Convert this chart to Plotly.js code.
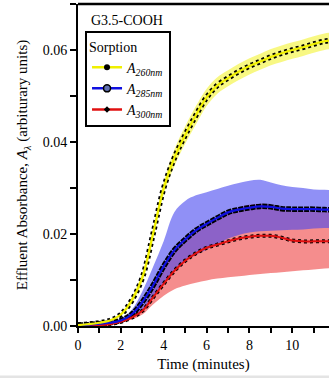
<!DOCTYPE html>
<html>
<head>
<meta charset="utf-8">
<script src="https://cdn.plot.ly/plotly-3.0.1.min.js"></script>
<style>html,body{margin:0;padding:0;background:#fff;}#chart{width:329px;height:378px;}</style>
</head>
<body>
<div id="chart"></div>
<script>
// Time (minutes)
const time = [0,0.5,1,1.5,2,2.5,3,3.5,4,4.5,5,5.5,6,6.5,7,7.5,8,8.5,9,9.5,10,10.5,11,11.5,12];

// A 260nm
const a260      = [0.0002,0.0004,0.0007,0.0012,0.0025,0.0055,0.0105,0.0200,0.0300,0.0366,0.0415,0.0458,0.0497,0.0523,0.0539,0.0553,0.0565,0.0575,0.0585,0.0593,0.0600,0.0606,0.0613,0.0619,0.0622];
const a260Upper = [0.0003,0.0005,0.0008,0.0014,0.0028,0.0062,0.0115,0.0212,0.0314,0.0384,0.0434,0.0478,0.0516,0.0541,0.0556,0.0570,0.0582,0.0592,0.0602,0.0610,0.0617,0.0623,0.0630,0.0636,0.0639];
const a260Lower = [0.0001,0.0003,0.0006,0.0010,0.0022,0.0048,0.0095,0.0188,0.0286,0.0348,0.0396,0.0438,0.0478,0.0505,0.0521,0.0535,0.0547,0.0557,0.0567,0.0574,0.0581,0.0587,0.0594,0.0600,0.0603];

// A 285nm
const a285      = [0.0002,0.0003,0.0005,0.0007,0.0012,0.0025,0.0052,0.0088,0.0130,0.0165,0.0188,0.0208,0.0222,0.0235,0.0247,0.0253,0.0257,0.0260,0.0259,0.0255,0.0254,0.0254,0.0254,0.0253,0.0253];
const a285Upper = [0.0004,0.0005,0.0007,0.0010,0.0016,0.0035,0.0075,0.0128,0.0185,0.0248,0.0272,0.0284,0.0291,0.0298,0.0305,0.0311,0.0316,0.0318,0.0312,0.0306,0.0302,0.0300,0.0297,0.0296,0.0296];
const a285Lower = [0.0001,0.0002,0.0003,0.0005,0.0009,0.0018,0.0035,0.0060,0.0095,0.0120,0.0140,0.0155,0.0166,0.0178,0.0190,0.0198,0.0203,0.0206,0.0207,0.0208,0.0209,0.0210,0.0212,0.0213,0.0213];

// A 300nm
const a300      = [0.0001,0.0001,0.0002,0.0004,0.0009,0.0018,0.0033,0.0062,0.0092,0.0120,0.0142,0.0158,0.0170,0.0177,0.0184,0.0190,0.0194,0.0196,0.0196,0.0192,0.0186,0.0184,0.0184,0.0184,0.0184];
const a300Upper = [0.0002,0.0002,0.0003,0.0005,0.0011,0.0022,0.0040,0.0080,0.0125,0.0165,0.0190,0.0210,0.0225,0.0237,0.0248,0.0258,0.0264,0.0266,0.0264,0.0258,0.0252,0.0250,0.0249,0.0248,0.0248];
const a300Lower = [0.0000,0.0000,0.0001,0.0003,0.0007,0.0014,0.0025,0.0047,0.0066,0.0080,0.0088,0.0094,0.0099,0.0103,0.0106,0.0108,0.0111,0.0113,0.0115,0.0117,0.0119,0.0121,0.0123,0.0125,0.0126];

const xTicks = [0,2,4,6,8,10];
const yTicks = [0,0.02,0.04,0.06];
const yTickText = ['0.00','0.02','0.04','0.06'];
const seriesNames = ['<i>A</i><sub><i>260nm</i></sub>','<i>A</i><sub><i>285nm</i></sub>','<i>A</i><sub><i>300nm</i></sub>'];

const FONT = 'Liberation Serif, Times New Roman, serif';

function band(lower, upper, fillcolor){
  return [
    {x: time, y: lower, mode:'lines', line:{width:0, shape:'spline'}, showlegend:false, hoverinfo:'skip'},
    {x: time, y: upper, mode:'lines', line:{width:0, shape:'spline'}, fill:'tonexty', fillcolor: fillcolor, showlegend:false, hoverinfo:'skip'}
  ];
}
function outline(y, w, dash){
  return {x: time, y: y, mode:'lines', line:{color:'#000', width:w, dash:dash, shape:'spline'}, showlegend:false, hoverinfo:'skip'};
}
function main(y, color, w){
  return {x: time, y: y, mode:'lines', line:{color:color, width:w, shape:'spline'}, showlegend:false};
}
function legendItem(name, lineColor, marker){
  return {x:[null], y:[null], mode:'lines+markers', name:name, line:{color:lineColor, width:2.5}, marker:marker, showlegend:true};
}

const data = [
  ...band(a300Lower, a300Upper, 'rgba(240,80,80,0.65)'),
  ...band(a285Lower, a285Upper, 'rgba(70,70,240,0.6)'),
  ...band(a260Lower, a260Upper, 'rgba(245,245,90,0.75)'),
  outline(a300, 4, '3px,3px'),
  outline(a285, 5.5, '5px,1px'),
  outline(a260, 5.5, '3px,3px'),
  main(a300, '#e01010', 2),
  main(a285, '#1010e0', 2.2),
  main(a260, '#f0f000', 2.2),
  legendItem(seriesNames[0], '#f0f000', {symbol:'circle', size:6, color:'#000'}),
  legendItem(seriesNames[1], '#1010e0', {symbol:'circle', size:7, color:'#6070b0', line:{color:'#000', width:1.5}}),
  legendItem(seriesNames[2], '#e01010', {symbol:'diamond', size:5, color:'#000'})
];

const layout = {
  width: 329, height: 378,
  margin: {l:78, r:0, t:4, b:52},
  paper_bgcolor:'#fff', plot_bgcolor:'#fff',
  font: {family: FONT, color:'#000', size:13},
  showlegend: true,
  legend: {
    x: 0.028, y: 0.915, xanchor:'left', yanchor:'top',
    bordercolor:'#000', borderwidth:2, bgcolor:'#fff',
    font:{family:FONT, size:14, color:'#000'},
    title:{text:'Sorption', font:{family:FONT, size:14, color:'#000'}},
    traceorder:'normal',
    tracegroupgap:0, itemwidth:30
  },
  xaxis: {
    range:[0, 11.71],
    showline:true, linecolor:'#000', linewidth:2,
    ticks:'outside', ticklen:5, tickwidth:2, tickcolor:'#000',
    tickvals: xTicks, ticktext: xTicks.map(String),
    minor:{dtick:1, tick0:1, ticks:'outside', ticklen:5, tickwidth:2, tickcolor:'#000', showgrid:false},
    showgrid:false, zeroline:false,
    tickfont:{family:FONT, size:14},
    title:{text:'Time (minutes)', font:{family:FONT, size:15}, standoff:7}
  },
  yaxis: {
    range:[0, 0.07],
    showline:true, linecolor:'#000', linewidth:2,
    ticks:'outside', ticklen:6, tickwidth:2, tickcolor:'#000',
    tickvals: yTicks, ticktext: yTickText,
    minor:{dtick:0.01, tick0:0.01, ticks:'outside', ticklen:6, tickwidth:2, tickcolor:'#000', showgrid:false},
    showgrid:false, zeroline:false,
    tickfont:{family:FONT, size:14},
    title:{text:'Effluent Absorbance, <i>A</i><sub><i>λ</i></sub> (arbiturary units)', font:{family:FONT, size:15}, standoff:11}
  },
  annotations: [
    {text:'G3.5-COOH', xref:'paper', yref:'paper', x:0.044, y:0.949, xanchor:'left', yanchor:'middle', showarrow:false, font:{family:FONT, size:14, color:'#000'}}
  ],
  shapes: [
    {type:'line', xref:'paper', yref:'paper', x0:0, x1:1, y0:1, y1:1, line:{color:'#000', width:2.5}},
    {type:'rect', xref:'paper', yref:'paper', x0:-0.32, x1:1.01, y0:-0.163, y1:-0.154, fillcolor:'#e4e4e4', line:{width:0}, layer:'below'}
  ]
};

Plotly.newPlot('chart', data, layout, {displayModeBar:false, staticPlot:true});
</script>
</body>
</html>
